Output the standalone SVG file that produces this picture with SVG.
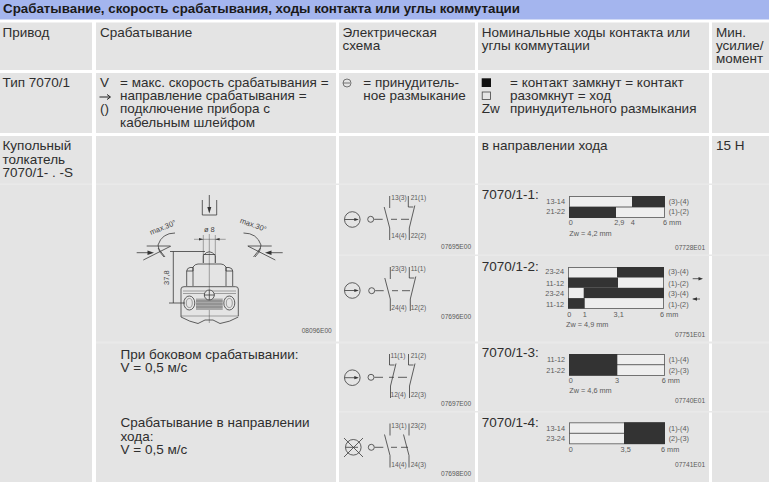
<svg xmlns="http://www.w3.org/2000/svg" width="769" height="482" viewBox="0 0 769 482">
<style>
text{font-family:"Liberation Sans",Arial,sans-serif;fill:#2e2e2e}
.t{font-size:13.5px}
.h{font-size:13.33px;font-weight:bold;fill:#1a1a1a}
.s{font-size:7.3px;fill:#5a5a5a}
.l{font-size:6.6px;fill:#5a5a5a}
.d{font-size:7.5px;fill:#444}
.c{font-size:6.6px;fill:#5a5a5a}
.m{text-anchor:middle}
.e{text-anchor:end}
.cell{fill:#e4e4e4}
.sep{fill:#e9e9e9}
.ln{fill:none;stroke:#3a3a3a;stroke-width:.8}
.th{fill:none;stroke:#555;stroke-width:.5}
.dk{fill:#333}
.lt{fill:#eeeeee;stroke:#666;stroke-width:.9}
</style>
<defs>
<g id="nc"><path class="ln" d="M0 0V11H5M6.500 9.500L1 32V44"/></g>
<g id="no"><path class="ln" d="M0 0V12M-5.500 11L0 32V44"/></g>
<g id="act"><circle class="ln" cx="0" cy="0" r="3"/><path class="ln" d="M3.500 0H12"/></g>
<g id="pos"><circle class="ln" cx="0" cy="0" r="7.800"/><path class="ln" d="M-7.800 0H5"/><path class="dk" d="M6.500 0L2 -1.600V1.600Z"/></g>
</defs>
<rect width="769" height="482" fill="#fff"/>
<g id="table">
<rect x="0" y="0" width="769" height="19.500" fill="#a4b5ee"/>
<text class="h" x="3" y="13">Срабатывание, скорость срабатывания, ходы контакта или углы коммутации</text>
<rect class="cell" x="0" y="22.500" width="92" height="47.500"/>
<rect class="cell" x="96" y="22.500" width="240" height="47.500"/>
<rect class="cell" x="339" y="22.500" width="136" height="47.500"/>
<rect class="cell" x="478" y="22.500" width="231" height="47.500"/>
<rect class="cell" x="712" y="22.500" width="57" height="47.500"/>
<rect class="cell" x="0" y="73" width="92" height="60"/>
<rect class="cell" x="96" y="73" width="240" height="60"/>
<rect class="cell" x="339" y="73" width="136" height="60"/>
<rect class="cell" x="478" y="73" width="231" height="60"/>
<rect class="cell" x="712" y="73" width="57" height="60"/>
<rect class="cell" x="0" y="136" width="92" height="346"/>
<rect class="cell" x="96" y="136" width="240" height="346"/>
<rect class="cell" x="339" y="136" width="136" height="346"/>
<rect class="cell" x="478" y="136" width="231" height="346"/>
<rect class="cell" x="712" y="136" width="57" height="346"/>
<rect class="sep" x="0" y="183.500" width="92" height="1.500"/>
<rect class="sep" x="96" y="183.500" width="673" height="1.500"/>
<rect class="sep" x="339" y="254.500" width="430" height="1.500"/>
<rect class="sep" x="96" y="341.500" width="673" height="2"/>
<rect class="sep" x="339" y="411" width="430" height="1.500"/>
<text class="t" x="2.500" y="36.700">Привод</text>
<text class="t" x="100" y="36.700">Срабатывание</text>
<text class="t" y="36.700"><tspan x="342.500">Электрическая</tspan><tspan x="342.500" dy="13.300">схема</tspan></text>
<text class="t" y="36.700"><tspan x="481.700">Номинальные ходы контакта или</tspan><tspan x="481.700" dy="13.300">углы коммутации</tspan></text>
<text class="t" y="36.700"><tspan x="716">Мин.</tspan><tspan x="716" dy="13.300">усилие/</tspan><tspan x="716" dy="13.300">момент</tspan></text>
<text class="t" x="2.500" y="86.700">Тип 7070/1</text>
<text class="t" y="86.700"><tspan x="100">V</tspan><tspan x="100" dy="26.600">()</tspan></text>
<path d="M99.500 97H110M107 94.500L110.500 97L107 99.500" fill="none" stroke="#222" stroke-width="1"/>
<text class="t" y="86.700"><tspan x="120">= макс. скорость срабатывания =</tspan><tspan x="120" dy="13.300">направление срабатывания =</tspan><tspan x="120" dy="13.300">подключение прибора с</tspan><tspan x="120" dy="13.300">кабельным шлейфом</tspan></text>
<circle cx="347" cy="83" r="4" fill="none" stroke="#555" stroke-width=".8"/>
<path d="M343 83H350" stroke="#555" stroke-width=".8"/>
<text class="t" y="86.700"><tspan x="363.300">= принудитель-</tspan><tspan x="363.300" dy="13.300">ное размыкание</tspan></text>
<rect x="481.700" y="78.300" width="9.300" height="8.700" fill="#111"/>
<rect x="482.200" y="92" width="8.300" height="7.500" fill="none" stroke="#444" stroke-width=".8"/>
<text class="t" x="481.700" y="113.300">Zw</text>
<text class="t" y="86.700"><tspan x="510">= контакт замкнут = контакт</tspan><tspan x="510" dy="13.300">разомкнут = ход</tspan><tspan x="510" dy="13.300">принудительного размыкания</tspan></text>
<text class="t" y="150"><tspan x="2.500">Купольный</tspan><tspan x="2.500" dy="13.500">толкатель</tspan><tspan x="2.500" dy="13.500">7070/1- . -S</tspan></text>
<text class="t" x="481.700" y="150">в направлении хода</text>
<text class="t" x="716" y="150">15 Н</text>
<text class="t" y="359"><tspan x="120.500">При боковом срабатывании:</tspan><tspan x="120.500" dy="13">V = 0,5 м/с</tspan></text>
<text class="t" y="427"><tspan x="120.500">Срабатывание в направлении</tspan><tspan x="120.500" dy="13.500">хода:</tspan><tspan x="120.500" dy="13.500">V = 0,5 м/с</tspan></text>
</g>
<g id="switch-drawing">
<path class="ln" d="M202.300 200V215H216.700V200"/>
<path class="ln" d="M209.300 195V209"/>
<path class="dk" d="M209.300 213.500L207.300 207H211.300Z"/>
<text class="d m" x="209.300" y="231.500">ø 8</text>
<path class="th" d="M194 239.300H225.700M203.300 235V263M215.300 235V263M209.300 234V323"/>
<path class="dk" d="M203.300 239.300L199 238V240.600ZM215.300 239.300L219.600 238V240.600Z"/>
<path class="ln" d="M203.300 263V255.500Q209.300 248 215.300 255.500V263M203.300 254.500H215.300"/>
<path class="ln" d="M193 270V267Q195 264 198 264H221Q224 264 226 267V270"/>
<path class="ln" d="M186.700 286V271Q187 268 190 267.500H193V271H186.700M232.700 286V271Q232.500 268 229 267.500H226V271H232.700M193 270V286M226 270V286"/>
<path class="ln" d="M181 289Q181 286.700 184 286.700H235.500Q238.300 286.700 238.300 289V316"/>
<path class="ln" d="M181 289V317Q190 322 198 323.500L205 320L213 320L220 323.500Q230 322 238.300 317"/>
<path class="th" d="M183 291H236M183 293.500H236M181 316H238.300"/>
<rect x="196" y="298.500" width="26.700" height="11.500" fill="#a8a8a8"/>
<path class="th" d="M196 301H222.700M196 304H222.700M196 307H222.700"/>
<ellipse class="ln" cx="189.300" cy="303" rx="5.500" ry="7"/>
<ellipse class="ln" cx="229.300" cy="303" rx="5.500" ry="7"/>
<ellipse class="th" cx="189.300" cy="303" rx="3" ry="4.500"/>
<ellipse class="th" cx="229.300" cy="303" rx="3" ry="4.500"/>
<circle cx="209.300" cy="295" r="5" fill="#e4e4e4" stroke="#3a3a3a" stroke-width=".8"/>
<path class="ln" d="M204 295H214.600M209.300 290V300"/>
<path class="ln" d="M170 251.500H205M173.300 251.500V303M169 303H185"/>
<text class="d" transform="translate(168.500 285) rotate(-90)">37,8</text>
<path class="ln" d="M136.700 252.700H149M146.700 246H170M143.300 260L171 246M158 248L165 257M175 233Q162 233 158 245Q158 252 164 257"/>
<path class="dk" d="M154 252.700L147.500 250.500V254.900Z"/>
<path class="ln" d="M282.700 252.700H270M271.700 246H248M275.300 260L247.700 246M260.500 248L253.500 257M243.500 233Q257 233 261 245Q261 252 255 257"/>
<path class="dk" d="M265 252.700L271.500 250.500V254.900Z"/>
<text class="d" transform="translate(151 235) rotate(-22)">max.30°</text>
<text class="d" transform="translate(239.500 222.500) rotate(20)">max.30°</text>
<text class="c" x="301.700" y="333">08096E00</text>
</g>
<g id="schematic-1">
<use href="#pos" x="352.300" y="219.500"/><use href="#act" x="370.700" y="219.300"/>
<path class="ln" d="M391 219.300H397M401 219.300H409"/>
<use href="#no" x="389.700" y="196"/><use href="#nc" x="408.300" y="196"/>
<text class="l" x="391.300" y="200">13(3)</text><text class="l" x="410.700" y="200">21(1)</text>
<text class="l" x="391.300" y="238.300">14(4)</text><text class="l" x="410.700" y="238.300">22(2)</text>
<text class="c" x="441" y="248.500">07695E00</text>
</g>
<g id="schematic-2">
<use href="#pos" x="352.300" y="290.500"/><use href="#act" x="371.700" y="290.700"/>
<path class="ln" d="M392 290.700H398M402 290.700H410"/>
<use href="#no" x="390.300" y="267"/><use href="#nc" x="409.300" y="267"/>
<text class="l" x="391.300" y="271">23(3)</text><text class="l" x="410.700" y="271">11(1)</text>
<text class="l" x="391.300" y="310">24(4)</text><text class="l" x="410.700" y="310">12(2)</text>
<text class="c" x="441" y="319.300">07696E00</text>
</g>
<g id="schematic-3">
<use href="#pos" x="352.300" y="377.700"/><use href="#act" x="371" y="377.300"/>
<path class="ln" d="M389 377.300H394M398 377.300H407"/>
<use href="#nc" x="389.500" y="354"/><use href="#nc" x="408.500" y="354"/>
<text class="l" x="390.500" y="358.300">11(1)</text><text class="l" x="410.700" y="358.300">21(2)</text>
<text class="l" x="390.500" y="397.300">12(4)</text><text class="l" x="410.700" y="397.300">22(3)</text>
<text class="c" x="441" y="405.700">07697E00</text>
</g>
<g id="schematic-4">
<circle class="ln" cx="353.300" cy="447.300" r="7.800"/>
<path class="ln" d="M344 438L363 457M363 438L344 457M345.500 447.300H358"/>
<use href="#act" x="371.300" y="447.300"/>
<path class="ln" d="M391 447.300H397M401 447.300H408"/>
<use href="#no" x="390" y="423.500"/><use href="#no" x="409" y="423.500"/>
<text class="l" x="391.300" y="427.700">13(1)</text><text class="l" x="410.700" y="427.700">23(2)</text>
<text class="l" x="391.300" y="467.300">14(4)</text><text class="l" x="410.700" y="467.300">24(3)</text>
<text class="c" x="441" y="475.600">07698E00</text>
</g>
<g id="chart-1">
<text class="t" x="481.700" y="199.300">7070/1-1:</text>
<rect class="lt" x="569.500" y="196.500" width="95" height="21"/>
<path class="ln" d="M569.500 207H664.500"/>
<rect class="dk" x="632" y="196" width="33" height="11"/>
<rect class="dk" x="569" y="207" width="47" height="11"/>
<text class="s e" x="565" y="203.700">13-14</text><text class="s e" x="565" y="214.300">21-22</text>
<text class="s" x="668.700" y="203.700">(3)-(4)</text><text class="s" x="668.700" y="214.300">(1)-(2)</text>
<text class="s m" x="570.700" y="225">0</text><text class="s m" x="619.300" y="225">2,9</text><text class="s m" x="632.700" y="225">4</text><text class="s" x="663" y="225">6 mm</text>
<text class="s" x="569.300" y="235.700">Zw = 4,2 mm</text>
<text class="c" x="675" y="250">07728E01</text>
</g>
<g id="chart-2">
<text class="t" x="481.700" y="271">7070/1-2:</text>
<rect class="lt" x="568.500" y="267.500" width="95" height="41"/>
<rect class="dk" x="617" y="267" width="47" height="10.500"/>
<rect class="dk" x="568" y="277.500" width="50" height="10.300"/>
<rect class="dk" x="583.700" y="287.800" width="80.300" height="10.300"/>
<rect class="dk" x="568" y="298.100" width="16.700" height="10.400"/>
<text class="s e" x="564" y="274.300">23-24</text><text class="s e" x="564" y="285.700">11-12</text><text class="s e" x="564" y="296.300">23-24</text><text class="s e" x="564" y="306.700">11-12</text>
<text class="s" x="668.300" y="274.300">(3)-(4)</text><text class="s" x="668.300" y="285.700">(1)-(2)</text><text class="s" x="668.300" y="296.300">(3)-(4)</text><text class="s" x="668.300" y="306.700">(1)-(2)</text>
<path class="ln" d="M692.700 278.700H700M692.700 299H700"/>
<path class="dk" d="M703 278.700L698.500 276.900V280.500ZM692.500 299L697 297.200V300.800Z"/>
<text class="s m" x="569.300" y="316.700">0</text><text class="s m" x="584.700" y="316.700">1</text><text class="s m" x="618.700" y="316.700">3,1</text><text class="s" x="660" y="316.700">6 mm</text>
<text class="s" x="566" y="326.700">Zw = 4,9 mm</text>
<text class="c" x="675" y="336.700">07751E01</text>
</g>
<g id="chart-3">
<text class="t" x="481.700" y="357.300">7070/1-3:</text>
<rect class="lt" x="569.500" y="354.500" width="95" height="21"/>
<path class="ln" d="M569.500 364.700H664.500"/>
<rect class="dk" x="569" y="354" width="48.300" height="21.500"/>
<text class="s e" x="565" y="361.700">11-12</text><text class="s e" x="565" y="372.700">21-22</text>
<text class="s" x="668.700" y="361.700">(1)-(4)</text><text class="s" x="668.700" y="372.700">(2)-(3)</text>
<text class="s m" x="570.700" y="383.300">0</text><text class="s m" x="617" y="383.300">3</text><text class="s" x="661.700" y="383.300">6 mm</text>
<text class="s" x="569.300" y="393.300">Zw = 4,6 mm</text>
<text class="c" x="675" y="403.300">07740E01</text>
</g>
<g id="chart-4">
<text class="t" x="481.700" y="427.300">7070/1-4:</text>
<rect class="lt" x="569.500" y="422.800" width="95" height="21"/>
<path class="ln" d="M569.500 433.300H664.500"/>
<rect class="dk" x="624" y="422.300" width="41" height="21.700"/>
<text class="s e" x="565" y="430.700">13-14</text><text class="s e" x="565" y="441">23-24</text>
<text class="s" x="668.700" y="430.700">(1)-(4)</text><text class="s" x="668.700" y="441">(2)-(3)</text>
<text class="s m" x="570.700" y="451.700">0</text><text class="s m" x="625.700" y="451.700">3,5</text><text class="s" x="661" y="451.700">6 mm</text>
<text class="c" x="675" y="467.300">07741E01</text>
</g>
</svg>
